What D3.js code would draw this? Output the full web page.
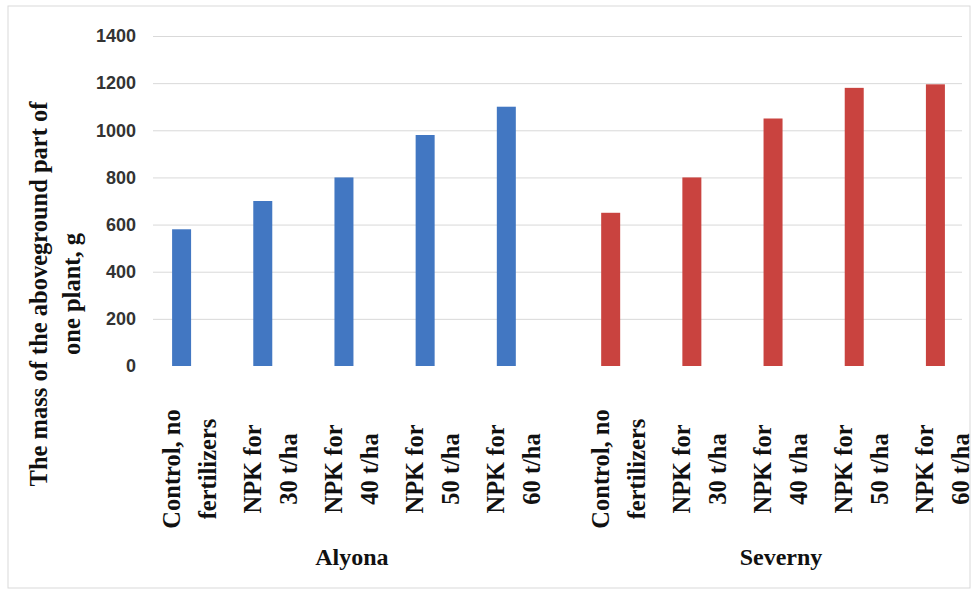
<!DOCTYPE html>
<head>
  <meta charset="utf-8">
  <script src="https://cdn.jsdelivr.net/npm/d3@7"></script>
  <style>
    body { margin: 0; background: #fff; }
    .tick-y { font-family: "Liberation Sans", Arial, sans-serif; font-size: 18px; font-weight: bold; fill: #333; }
    .serif { font-family: "Liberation Serif", "Times New Roman", serif; font-weight: bold; fill: #111; }
  </style>
</head>
<body>
  <svg width="974" height="593"></svg>
  <script>
    // data
    var groups = ["Alyona", "Severny"];
    var treatments = ["Control, no|fertilizers", "NPK for|30 t/ha", "NPK for|40 t/ha", "NPK for|50 t/ha", "NPK for|60 t/ha"];
    var alyona = [580, 700, 800, 980, 1100];
    var severny = [650, 800, 1050, 1180, 1195];
    var yTicks = [0, 200, 400, 600, 800, 1000, 1200, 1400];
    var colors = { Alyona: "#4277c2", Severny: "#c9433f" };

    var svg = d3.select("svg");

    // frame
    svg.append("rect")
      .attr("x", 8).attr("y", 6)
      .attr("width", 962).attr("height", 582)
      .attr("fill", "none")
      .attr("stroke", "#d9d9d9");

    var y = d3.scaleLinear().domain([0, 1400]).range([366, 36]);

    var x0 = d3.scaleBand()
      .domain(groups)
      .range([141, 976])
      .paddingInner(0.054);

    var x1 = d3.scaleBand()
      .domain(treatments)
      .range([0, x0.bandwidth()])
      .paddingInner(0.766)
      .paddingOuter(0.383);

    // gridlines
    svg.append("g")
      .selectAll("line")
      .data(yTicks.slice(1))
      .enter().append("line")
        .attr("x1", 153).attr("x2", 962)
        .attr("y1", function (d) { return y(d) + 0.5; })
        .attr("y2", function (d) { return y(d) + 0.5; })
        .attr("stroke", "#d9d9d9");

    // y tick labels
    svg.append("g")
      .selectAll("text")
      .data(yTicks)
      .enter().append("text")
        .attr("class", "tick-y")
        .attr("x", 136)
        .attr("y", function (d) { return y(d); })
        .attr("dy", "0.35em")
        .attr("text-anchor", "end")
        .text(function (d) { return d; });

    var series = { Alyona: alyona, Severny: severny };

    groups.forEach(function (g) {
      var gx = x0(g);
      var vals = series[g];

      // bars
      svg.append("g")
        .selectAll("rect")
        .data(vals)
        .enter().append("rect")
          .attr("x", function (d, i) { return gx + x1(treatments[i]); })
          .attr("y", function (d) { return y(d); })
          .attr("width", x1.bandwidth())
          .attr("height", function (d) { return y(0) - y(d); })
          .attr("fill", colors[g]);

      // category labels, rotated, two lines
      treatments.forEach(function (t) {
        var cx = gx + x1(t) + x1.bandwidth() / 2;
        var lines = t.split("|");
        var txt = svg.append("text")
          .attr("class", "serif")
          .attr("font-size", 24.5)
          .attr("text-anchor", "middle")
          .attr("transform", "translate(" + (cx - 2) + ",469) rotate(-90)");
        lines.forEach(function (l, k) {
          txt.append("tspan")
            .attr("x", 0)
            .attr("y", k * 36)
            .text(l);
        });
      });

      // group label
      svg.append("text")
        .attr("class", "serif")
        .attr("font-size", 24)
        .attr("text-anchor", "middle")
        .attr("x", gx + x0.bandwidth() / 2 + 8)
        .attr("y", 565)
        .text(g);
    });

    // y axis title
    var title = svg.append("text")
      .attr("class", "serif")
      .attr("font-size", 24.5)
      .attr("text-anchor", "middle")
      .attr("transform", "translate(47,294) rotate(-90)");
    title.append("tspan").attr("x", 0).attr("y", 0).text("The mass of the aboveground part of");
    title.append("tspan").attr("x", 0).attr("y", 33).text("one plant, g");
  </script>
</body>
